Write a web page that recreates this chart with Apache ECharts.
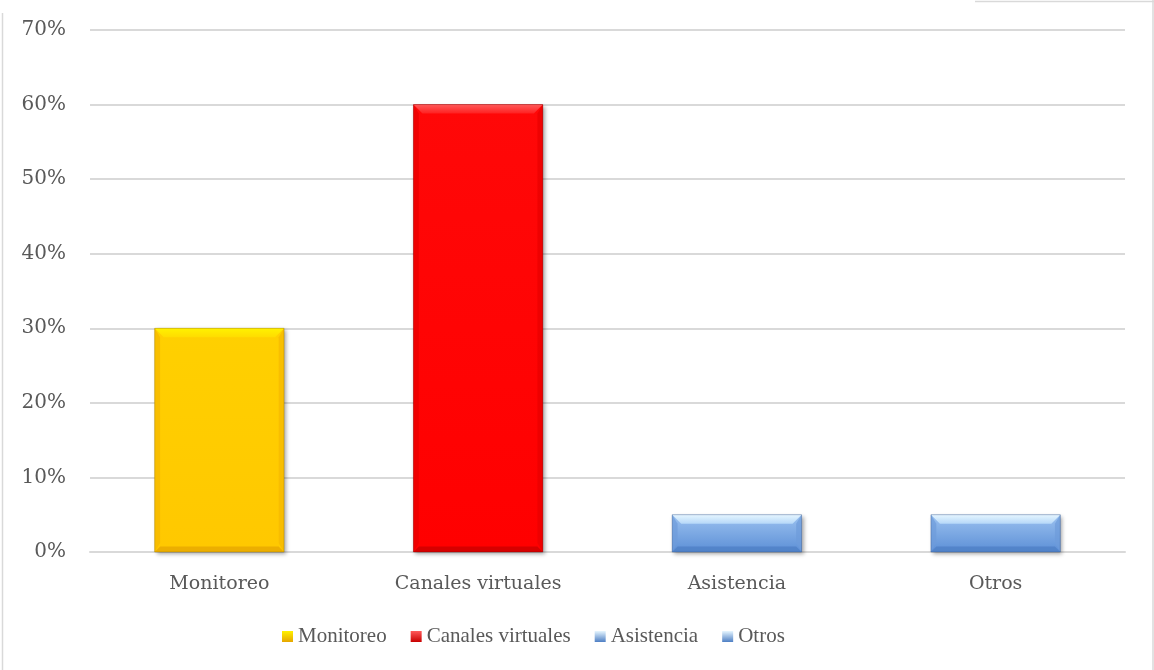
<!DOCTYPE html>
<html>
<head>
<meta charset="utf-8">
<script src="https://cdn.jsdelivr.net/npm/echarts@6/dist/echarts.min.js"></script>
<style>
  html, body { margin: 0; padding: 0; background: #fff; }
  #chart { width: 1154px; height: 670px; }
</style>
</head>
<body>
<div id="chart"></div>
<script>
// Categories and their shares (percent)
const categories = ['Monitoreo', 'Canales virtuales', 'Asistencia', 'Otros'];
const seriesNames = ['Monitoreo', 'Canales virtuales', 'Asistencia', 'Otros'];
const values = [30, 60, 5, 5];
const yTicks = [0, 10, 20, 30, 40, 50, 60, 70];

// Bevel palettes: face gradient, top/bottom/side bevel tones
const palettes = [
  { faceTop: '#FFD000', faceBot: '#FFC800', top: '#FFF200', topIn: '#FFDC00', side: '#F5B800', bottom: '#E6A600', edge: '#8A6A00' },
  { faceTop: '#FF0808', faceBot: '#FF0000', top: '#FF5A5A', topIn: '#FF2020', side: '#E80000', bottom: '#C80000', edge: '#700000' },
  { faceTop: '#9CC2F0', faceBot: '#5C8FD6', top: '#E6F6FF', topIn: '#B6D8F8', side: '#6E9BDA', bottom: '#4E7FC4', edge: '#2E4F80' },
  { faceTop: '#9CC2F0', faceBot: '#5C8FD6', top: '#E6F6FF', topIn: '#B6D8F8', side: '#6E9BDA', bottom: '#4E7FC4', edge: '#2E4F80' }
];

function vgrad(c0, c1) {
  return new echarts.graphic.LinearGradient(0, 0, 0, 1, [
    { offset: 0, color: c0 }, { offset: 1, color: c1 }
  ]);
}

function bevelBar(p) {
  return function (params, api) {
    const cat = api.value(0);
    const val = api.value(1);
    const topPt = api.coord([cat, val]);
    const basePt = api.coord([cat, 0]);
    const band = api.size([1, 0])[0];
    const w = band * 0.5;
    const x0 = topPt[0] - w / 2, x1 = topPt[0] + w / 2;
    const y0 = topPt[1], y1 = basePt[1];
    const b = Math.min(9, (y1 - y0) / 2, w / 2);
    return {
      type: 'group',
      children: [
        { type: 'rect', shape: { x: x0, y: y0, width: x1 - x0, height: y1 - y0 },
          style: { fill: vgrad(p.faceTop, p.faceBot), shadowBlur: 4, shadowOffsetX: 2, shadowOffsetY: 2, shadowColor: 'rgba(0,0,0,0.35)' } },
        { type: 'polygon', shape: { points: [[x0, y0], [x1, y0], [x1 - b, y0 + b], [x0 + b, y0 + b]] },
          style: { fill: vgrad(p.top, p.topIn) } },
        { type: 'polygon', shape: { points: [[x0, y0], [x0 + b * 0.6, y0 + b], [x0 + b * 0.6, y1 - b], [x0, y1]] },
          style: { fill: p.side, opacity: 0.7 } },
        { type: 'polygon', shape: { points: [[x1, y0], [x1 - b * 0.6, y0 + b], [x1 - b * 0.6, y1 - b], [x1, y1]] },
          style: { fill: p.side, opacity: 0.7 } },
        { type: 'polygon', shape: { points: [[x0, y1], [x0 + b * 0.6, y1 - b * 0.6], [x1 - b * 0.6, y1 - b * 0.6], [x1, y1]] },
          style: { fill: p.bottom, opacity: 0.75 } },
        { type: 'rect', shape: { x: x0, y: y0, width: x1 - x0, height: y1 - y0 },
          style: { fill: 'none', stroke: p.edge, lineWidth: 0.6, opacity: 0.6 } }
      ]
    };
  };
}

const textGrey = '#595959';
const fontFam = '"DejaVu Serif", "Liberation Serif", serif';
const legendFont = '"Liberation Serif", "DejaVu Serif", serif';

const chart = echarts.init(document.getElementById('chart'), null, { renderer: 'canvas' });

chart.setOption({
  backgroundColor: '#ffffff',
  animation: false,
  grid: { left: 90, right: 29, top: 30, bottom: 118, containLabel: false },
  legend: {
    data: seriesNames,
    top: 621,
    left: 277,
    icon: 'rect',
    itemWidth: 11,
    itemHeight: 11,
    itemGap: 24,
    textStyle: { color: textGrey, fontFamily: legendFont, fontSize: 21 }
  },
  xAxis: {
    type: 'category',
    data: categories,
    axisLine: { show: true, lineStyle: { color: '#d9d9d9', width: 2 } },
    axisTick: { show: false },
    axisLabel: { color: textGrey, fontFamily: fontFam, fontSize: 19, margin: 23 }
  },
  yAxis: {
    type: 'value',
    min: yTicks[0],
    max: yTicks[yTicks.length - 1],
    interval: 10,
    axisLine: { show: false },
    axisTick: { show: false },
    splitLine: { lineStyle: { color: '#d9d9d9', width: 2 } },
    axisLabel: { color: textGrey, fontFamily: fontFam, fontSize: 20, margin: 24, formatter: '{value}%' }
  },
  series: seriesNames.map((name, i) => ({
    type: 'custom',
    name: name,
    renderItem: bevelBar(palettes[i]),
    itemStyle: { color: vgrad(palettes[i].top, palettes[i].bottom) },
    encode: { x: 0, y: 1 },
    data: [[i, values[i]]],
    z: 3
  })),
  graphic: [
    { type: 'line', shape: { x1: 2.5, y1: 13, x2: 2.5, y2: 670 }, style: { stroke: '#d9d9d9', lineWidth: 1.5 } },
    { type: 'line', shape: { x1: 975, y1: 1.5, x2: 1154, y2: 1.5 }, style: { stroke: '#d9d9d9', lineWidth: 1.5 } },
    { type: 'line', shape: { x1: 1153, y1: 0, x2: 1153, y2: 670 }, style: { stroke: '#d9d9d9', lineWidth: 1.5 } }
  ]
});
</script>
</body>
</html>
